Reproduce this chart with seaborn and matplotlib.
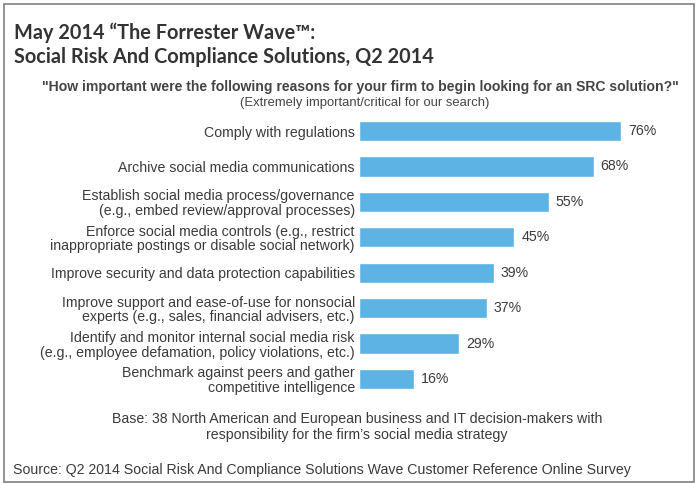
import matplotlib
matplotlib.use("Agg")
import matplotlib.pyplot as plt
import seaborn as sns
import pandas as pd
from matplotlib.patches import Rectangle

categories = [
    "Comply with regulations",
    "Archive social media communications",
    "Establish social media process/governance\n(e.g., embed review/approval processes)",
    "Enforce social media controls (e.g., restrict\ninappropriate postings or disable social network)",
    "Improve security and data protection capabilities",
    "Improve support and ease-of-use for nonsocial\nexperts (e.g., sales, financial advisers, etc.)",
    "Identify and monitor internal social media risk\n(e.g., employee defamation, policy violations, etc.)",
    "Benchmark against peers and gather\ncompetitive intelligence",
]
values = [76, 68, 55, 45, 39, 37, 29, 16]

title_lines = ["May 2014 \u201cThe Forrester Wave\u2122:", "Social Risk And Compliance Solutions, Q2 2014"]
question = "\"How important were the following reasons for your firm to begin looking for an SRC solution?\""
subq = "(Extremely important/critical for our search)"
base_text = "Base: 38 North American and European business and IT decision-makers with\nresponsibility for the firm\u2019s social media strategy"
source_text = "Source: Q2 2014 Social Risk And Compliance Solutions Wave Customer Reference Online Survey"

df = pd.DataFrame({"reason": categories, "pct": values})

sns.set_theme(style="white")
plt.rcParams["font.family"] = ["Liberation Sans", "DejaVu Sans"]

W, H = 696, 483
fig = plt.figure(figsize=(W / 100, H / 100), dpi=100)
fig.patch.set_facecolor("white")

def px(x, y):
    return x / W, 1 - y / H

TXT = "#3a3a3a"
FS = 10.2

# axes placement
left_px, right_px = 359, 359 + 90 * 3.45
top_px, bot_px = 113.3, 396.7
ax = fig.add_axes([left_px / W, 1 - bot_px / H, (right_px - left_px) / W, (bot_px - top_px) / H])

sns.barplot(data=df, y="reason", x="pct", orient="h", color="#5DB3E4",
            width=0.57, ax=ax, saturation=1)
ax.set_xlim(0, 90)
ax.set_ylim(7.5, -0.5)
ax.set_xlabel("")
ax.set_ylabel("")
ax.set_xticks([])
for s in ax.spines.values():
    s.set_visible(False)
ax.tick_params(axis="y", length=0, pad=3, labelsize=FS, labelcolor=TXT)
for lab in ax.get_yticklabels():
    lab.set_multialignment("right")
    lab.set_linespacing(1.05)

ax.bar_label(ax.containers[0], labels=[f"{v}%" for v in values], padding=5,
             fontsize=FS, color=TXT)

# titles
fig.text(*px(14, 33), title_lines[0], fontsize=14.3, fontweight="bold", family="Lato",
         color="#333333", ha="left", va="center")
fig.text(*px(14, 57), title_lines[1], fontsize=14.3, fontweight="bold", family="Lato",
         color="#333333", ha="left", va="center")
fig.text(*px(360, 87), question, fontsize=10.1, fontweight="bold", color="#444444",
         ha="center", va="center")
fig.text(*px(365, 103), subq, fontsize=9.4, color="#444444", ha="center", va="center")
fig.text(*px(357, 427), base_text, fontsize=FS, color=TXT, ha="center",
         va="center", linespacing=1.2)
fig.text(*px(13, 470), source_text, fontsize=FS, color=TXT, ha="left", va="center")

# border
fig.patches.append(Rectangle((4 / W, 1 - 482 / H), 690 / W, 478 / H, transform=fig.transFigure,
                             fill=False, edgecolor="#8a8a8a", linewidth=1.3))

fig.savefig("out.png", dpi=100)
